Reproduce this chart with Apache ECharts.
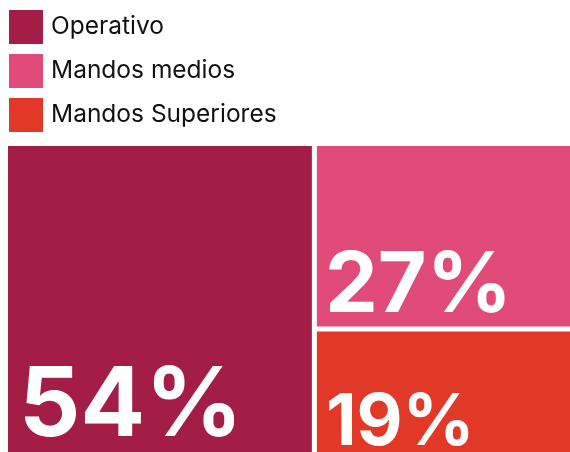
<!DOCTYPE html>
<html>
<head>
<meta charset="utf-8">
<script src="https://cdn.jsdelivr.net/npm/echarts@6/dist/echarts.min.js"></script>
<style>
    html, body { margin: 0; padding: 0; background: #fff; }
    #chart { width: 570px; height: 452px; }
</style>
</head>
<body>
<div id="chart"></div>
<script>
// categories and shares (%)
const categories = ['Operativo', 'Mandos medios', 'Mandos Superiores'];
const shares = [54, 27, 19];
const colors = ['#A31D46', '#E14B7A', '#E23828'];

// label look per block (biggest block gets biggest number)
const labelSize = [96, 84, 71];
const labelPad = [[0, 0, 2, 11], [0, 0, -2, 8], [0, 0, -2, 9]];

const chart = echarts.init(document.getElementById('chart'));

const treeData = categories.map((name, i) => ({
    name: name,
    value: shares[i],
    itemStyle: { color: colors[i] },
    label: { fontSize: labelSize[i], padding: labelPad[i] }
}));

chart.setOption({
    animation: false,
    legend: {
        orient: 'vertical',
        left: 9,
        top: 10,
        padding: 0,
        icon: 'rect',
        itemWidth: 34,
        itemHeight: 34,
        itemGap: 10,
        selectedMode: false,
        textStyle: { fontFamily: 'Inter', fontSize: 24.5, color: '#111', padding: [0, 0, 0, 3] },
        data: categories
    },
    series: [
        {
            // only here to feed the legend
            type: 'pie',
            radius: [0, 0],
            center: [-50, -50],
            silent: true,
            label: { show: false },
            data: categories.map((name, i) => ({ name: name, value: shares[i], itemStyle: { color: colors[i] } }))
        },
        {
            type: 'treemap',
            // the blocks run off the right and bottom edge, like the original
            left: 8,
            top: 146,
            right: -5,
            bottom: -5,
            squareRatio: 1,
            roam: false,
            nodeClick: false,
            breadcrumb: { show: false },
            itemStyle: { gapWidth: 5, borderWidth: 0 },
            label: {
                show: true,
                position: 'insideBottomLeft',
                formatter: '{c}%',
                color: '#fff',
                fontFamily: 'Inter',
                fontWeight: 'bold',
                overflow: 'none'
            },
            data: treeData
        }
    ]
});
</script>
</body>
</html>
